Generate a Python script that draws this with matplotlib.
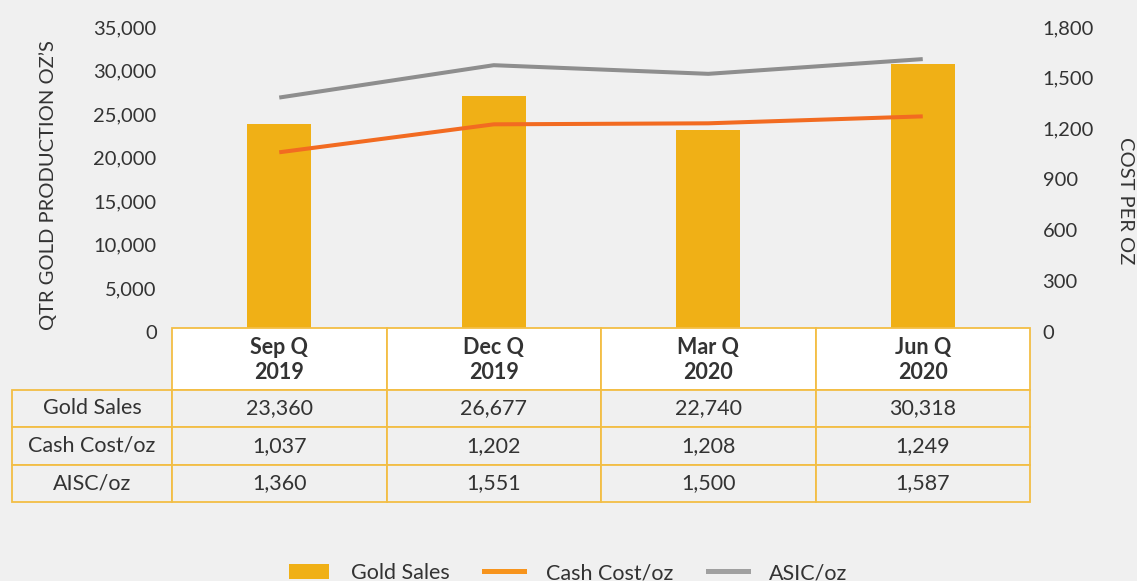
import matplotlib
matplotlib.use("Agg")
import matplotlib.pyplot as plt
from matplotlib.patches import Rectangle, Patch
from matplotlib.lines import Line2D
from matplotlib.transforms import blended_transform_factory, ScaledTranslation

plt.rcParams['font.family'] = ['Lato', 'DejaVu Sans']

# ---- data ----
quarters = ["Sep Q\n2019", "Dec Q\n2019", "Mar Q\n2020", "Jun Q\n2020"]
gold_sales = [23360, 26677, 22740, 30318]
cash_cost = [1037, 1202, 1208, 1249]
aisc = [1360, 1551, 1500, 1587]
row_labels = ["Gold Sales", "Cash Cost/oz", "AISC/oz"]
left_ticks = [0, 5000, 10000, 15000, 20000, 25000, 30000, 35000]
right_ticks = [0, 300, 600, 900, 1200, 1500, 1800]
legend_labels = ["Gold Sales", "Cash Cost/oz", "ASIC/oz"]

BG = "#F0F0F0"
GOLD = "#F0B016"
ORANGE = "#F26B21"
GRAY = "#8E8E8E"
BORDER = "#F3BE45"
TXT = "#333333"

W, H = 1137, 581
fig = plt.figure(figsize=(W / 100, H / 100), dpi=100, facecolor=BG)

def fx(px):
    return px / W

def fy(py):
    return 1 - py / H

ax = fig.add_axes([fx(172), fy(328), fx(1030) - fx(172), fy(23) - fy(328)])
ax.set_facecolor(BG)
x = list(range(len(quarters)))
ax.bar(x, gold_sales, width=0.3, color=GOLD, zorder=2)
ax.set_xlim(-0.5, len(quarters) - 0.5)
ax.set_ylim(0, 35000)
ax.set_yticks(left_ticks)
ax.set_yticklabels([f"{v:,}" for v in left_ticks])
ax.set_xticks([])
ax.tick_params(axis='y', length=0, pad=11, labelsize=14.5, labelcolor=TXT)
for s in ax.spines.values():
    s.set_visible(False)

ax2 = ax.twinx()
ax2.patch.set_visible(False)
ax2.plot(x, cash_cost, color=ORANGE, lw=2.9, solid_capstyle='butt')
ax2.plot(x, aisc, color=GRAY, lw=2.9, solid_capstyle='butt')
ax2.set_ylim(0, 1800)
ax2.set_yticks(right_ticks)
ax2.set_yticklabels([f"{v:,}" for v in right_ticks])
ax2.tick_params(axis='y', length=0, pad=9, labelsize=14.5, labelcolor=TXT)
for s in ax2.spines.values():
    s.set_visible(False)

shift = ScaledTranslation(0, -4 / 100, fig.dpi_scale_trans)
for lab in ax.get_yticklabels() + ax2.get_yticklabels():
    lab.set_transform(lab.get_transform() + shift)

fig.text(fx(48), fy(185), "QTR GOLD PRODUCTION OZ’S", rotation=90, ha='center',
         va='center', fontsize=14.5, color=TXT)
fig.text(fx(1125), fy(201), "COST PER OZ", rotation=270, ha='center',
         va='center', fontsize=14.5, color=TXT)

# ---- table ----
tr = blended_transform_factory(ax.transData, fig.transFigure)
col_w_px = (1030 - 172) / len(quarters)
label_left = -0.5 - (172 - 12) / col_w_px
row_edges_px = [328, 390, 427, 465, 502]

for i, q in enumerate(quarters):
    r = Rectangle((i - 0.5, fy(row_edges_px[1])), 1, fy(row_edges_px[0]) - fy(row_edges_px[1]),
                  transform=tr, facecolor="white", edgecolor=BORDER, lw=1.3, clip_on=False, zorder=3)
    fig.add_artist(r)
    fig.text(i, fy(360), q, transform=tr,
             ha='center', va='center', fontsize=15.5, fontweight='bold', color=TXT,
             linespacing=1.2, zorder=4)

table_vals = [[f"{v:,}" for v in gold_sales],
              [f"{v:,}" for v in cash_cost],
              [f"{v:,}" for v in aisc]]
for j, lab in enumerate(row_labels):
    top = fy(row_edges_px[j + 1])
    bot = fy(row_edges_px[j + 2])
    r = Rectangle((label_left, bot), -0.5 - label_left, top - bot, transform=tr,
                  facecolor=BG, edgecolor=BORDER, lw=1.3, clip_on=False, zorder=3)
    fig.add_artist(r)
    fig.text((label_left - 0.5) / 2, (top + bot) / 2, lab, transform=tr, ha='center',
             va='center', fontsize=15.5, color=TXT, zorder=4)
    for i, v in enumerate(table_vals[j]):
        r = Rectangle((i - 0.5, bot), 1, top - bot, transform=tr, facecolor=BG,
                      edgecolor=BORDER, lw=1.3, clip_on=False, zorder=3)
        fig.add_artist(r)
        fig.text(i, (top + bot) / 2, v, transform=tr, ha='center', va='center',
                 fontsize=15.5, color=TXT, zorder=4)

# ---- legend ----
handles = [Patch(facecolor=GOLD, edgecolor='none'),
           Line2D([], [], color="#F7941D", lw=3.6),
           Line2D([], [], color="#A0A0A0", lw=3.6)]
fig.legend(handles, legend_labels, loc='center', bbox_to_anchor=(0.5, fy(573)), ncol=3,
           frameon=False, fontsize=15.5, handlelength=1.86, handleheight=0.75,
           handletextpad=1.0, columnspacing=1.6, labelcolor=TXT)

fig.savefig("out.png", dpi=100, facecolor=BG)
